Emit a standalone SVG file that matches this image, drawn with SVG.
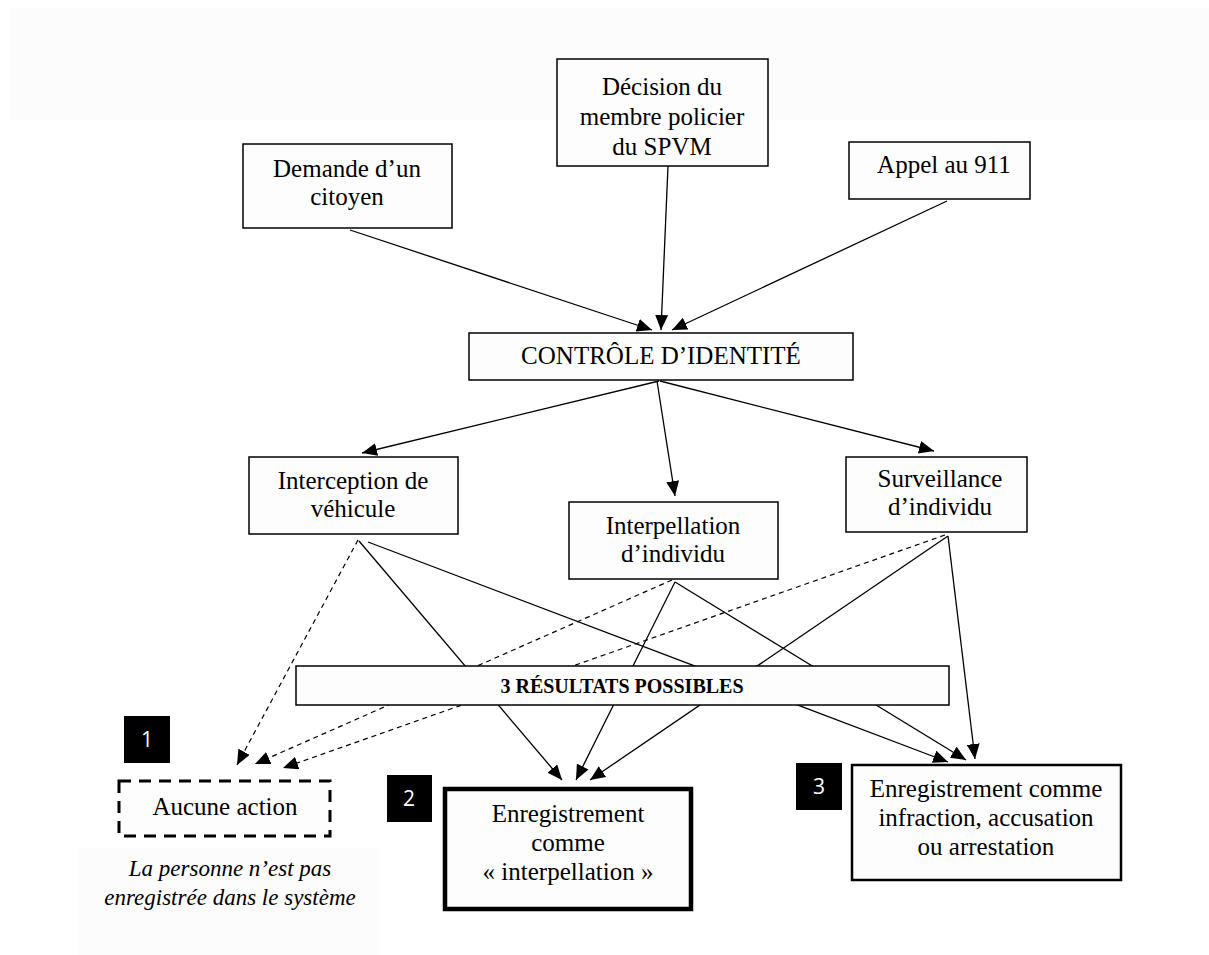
<svg xmlns="http://www.w3.org/2000/svg" width="1209" height="955" viewBox="0 0 1209 955">
<defs>
<style>
.box{fill:#fdfdfd;stroke:#000;stroke-width:1.5}
.t{font-family:"Liberation Serif","Times New Roman",serif;font-size:25px;fill:#000;text-anchor:middle}
.it{font-style:italic;font-size:23px}
.b{font-weight:bold;font-size:20px}
.sq{fill:#000}
.num{font-family:"Open Sans","Liberation Sans",sans-serif;font-size:21px;fill:#fff;text-anchor:middle}
.c{stroke:#000;stroke-width:1.3;fill:none}
.d{stroke:#000;stroke-width:1.2;fill:none;stroke-dasharray:5 4}
</style>
<marker id="ah" markerUnits="userSpaceOnUse" markerWidth="15" markerHeight="13" refX="15" refY="6.5" orient="auto">
<path d="M0,0 L15,6.5 L0,13 z" fill="#000"/>
</marker>
</defs>
<rect x="0" y="0" width="1209" height="955" fill="#fff"/>
<rect x="10" y="8" width="1199" height="112" fill="#fcfcfc"/>
<rect x="78" y="848" width="302" height="107" fill="#fcfcfc"/>

<g id="connectors">
<line class="c" x1="350" y1="230" x2="652" y2="330" marker-end="url(#ah)"/>
<line class="c" x1="668" y1="166" x2="661" y2="330" marker-end="url(#ah)"/>
<line class="c" x1="947" y1="201" x2="672" y2="330" marker-end="url(#ah)"/>
<line class="c" x1="659" y1="381" x2="362" y2="453" marker-end="url(#ah)"/>
<line class="c" x1="657" y1="381" x2="675" y2="496" marker-end="url(#ah)"/>
<line class="c" x1="660" y1="381" x2="934" y2="451" marker-end="url(#ah)"/>
<line class="c" x1="359" y1="541" x2="562" y2="780" marker-end="url(#ah)"/>
<line class="c" x1="368" y1="542" x2="948" y2="762" marker-end="url(#ah)"/>
<line class="c" x1="675" y1="582" x2="576" y2="780" marker-end="url(#ah)"/>
<line class="c" x1="675" y1="582" x2="966" y2="760" marker-end="url(#ah)"/>
<line class="c" x1="948" y1="536" x2="590" y2="780" marker-end="url(#ah)"/>
<line class="c" x1="948" y1="536" x2="975" y2="759" marker-end="url(#ah)"/>
<line class="d" x1="358" y1="540" x2="237" y2="765" marker-end="url(#ah)"/>
<line class="d" x1="672" y1="580" x2="255" y2="764" marker-end="url(#ah)"/>
<line class="d" x1="945" y1="535" x2="283" y2="768" marker-end="url(#ah)"/>
</g>

<g id="decision">
<rect class="box" x="557" y="59" width="211" height="107"/>
<text class="t" x="662" y="95">Décision du</text>
<text class="t" x="662" y="125">membre policier</text>
<text class="t" x="662" y="155">du SPVM</text>
</g>
<g id="demande">
<rect class="box" x="243" y="144" width="209" height="84"/>
<text class="t" x="347" y="177">Demande d’un</text>
<text class="t" x="347" y="205">citoyen</text>
</g>
<g id="appel">
<rect class="box" x="849" y="142" width="181" height="57"/>
<text class="t" x="944" y="173">Appel au 911</text>
</g>
<g id="controle">
<rect class="box" x="469" y="333" width="384" height="47"/>
<text class="t" x="661" y="364">CONTRÔLE D’IDENTITÉ</text>
</g>
<g id="interception">
<rect class="box" x="249" y="457" width="209" height="77"/>
<text class="t" x="353" y="489">Interception de</text>
<text class="t" x="353" y="517">véhicule</text>
</g>
<g id="interpellation">
<rect class="box" x="569" y="502" width="209" height="77"/>
<text class="t" x="673" y="534">Interpellation</text>
<text class="t" x="673" y="562">d’individu</text>
</g>
<g id="surveillance">
<rect class="box" x="846" y="457" width="181" height="75"/>
<text class="t" x="940" y="487">Surveillance</text>
<text class="t" x="940" y="515">d’individu</text>
</g>
<g id="resultats">
<rect class="box" x="296" y="666" width="653" height="39"/>
<text class="t b" x="622" y="693">3 RÉSULTATS POSSIBLES</text>
</g>
<g id="aucune">
<rect x="119" y="781" width="211" height="55" fill="#fdfdfd" stroke="#000" stroke-width="3" stroke-dasharray="12 8"/>
<text class="t" x="225" y="815">Aucune action</text>
<text class="t it" x="230" y="876">La personne n’est pas</text>
<text class="t it" x="230" y="905">enregistrée dans le système</text>
</g>
<g id="badge1">
<rect class="sq" x="124" y="716" width="46" height="47"/>
<text class="num" x="147" y="747">1</text>
</g>
<g id="badge2">
<rect class="sq" x="387" y="775" width="45" height="47"/>
<text class="num" x="409" y="806">2</text>
</g>
<g id="badge3">
<rect class="sq" x="796" y="763" width="46" height="47"/>
<text class="num" x="819" y="794">3</text>
</g>
<g id="interpellation-record">
<rect x="445" y="789" width="246" height="120" fill="#fdfdfd" stroke="#000" stroke-width="4.5"/>
<text class="t" x="568" y="822">Enregistrement</text>
<text class="t" x="568" y="851">comme</text>
<text class="t" x="568" y="880">« interpellation »</text>
</g>
<g id="infraction-record">
<rect x="852" y="765" width="269" height="115" fill="#fdfdfd" stroke="#000" stroke-width="2.5"/>
<text class="t" x="986" y="797">Enregistrement comme</text>
<text class="t" x="986" y="826">infraction, accusation</text>
<text class="t" x="986" y="855">ou arrestation</text>
</g>
</svg>
